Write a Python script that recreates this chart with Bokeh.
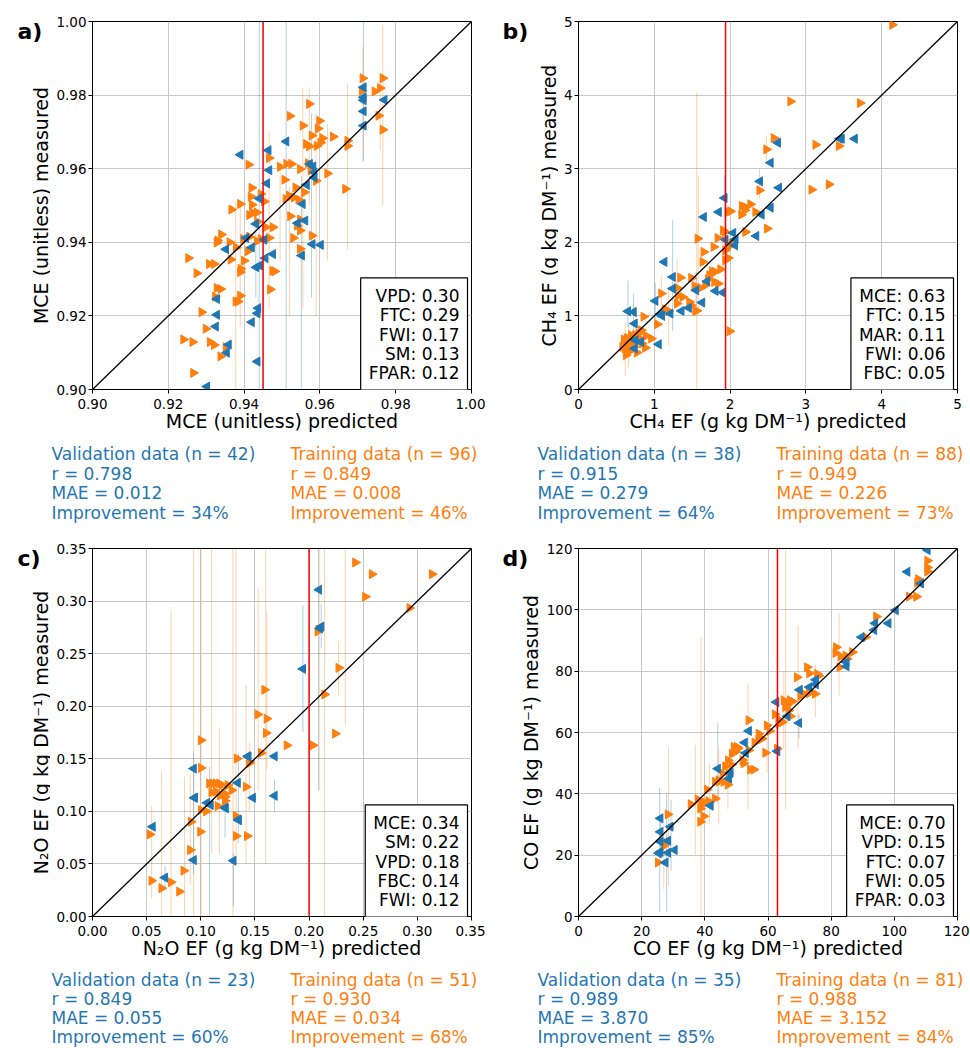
import numpy as np
from bokeh.plotting import figure
from bokeh.models import Range1d, FixedTicker, Label, Span, PrintfTickFormatter
from bokeh.layouts import column, row
from bokeh.embed import file_html
from bokeh.resources import INLINE

BLUE = "#1f77b4"
ORANGE = "#ff7f0e"
FONT = "DejaVu Sans"

# ---------------- Panel a: MCE ----------------
a_val_x = [0.939, 0.9511, 0.9464, 0.9466, 0.946, 0.944, 0.9431, 0.9405, 0.9352, 0.9420, 0.9453, 0.9476, 0.9456, 0.9441,
           0.9432, 0.9437, 0.9435, 0.9420, 0.9328, 0.9328, 0.9325, 0.9359, 0.9354, 0.9435, 0.9302, 0.9541, 0.9554, 0.9561,
           0.9552, 0.958, 0.9602, 0.9565, 0.9573, 0.9582, 0.9585, 0.9585, 0.9715, 0.9715, 0.9715, 0.9715, 0.9715, 0.977]
a_val_y = [0.9638, 0.9674, 0.9650, 0.9596, 0.9560, 0.9519, 0.9450, 0.9412, 0.9381, 0.9386, 0.9407, 0.9368, 0.9357, 0.9337,
           0.9332, 0.9221, 0.9207, 0.9183, 0.9203, 0.9246, 0.9171, 0.9122, 0.9100, 0.9076, 0.9008, 0.9452, 0.9504, 0.9459,
           0.9364, 0.9395, 0.9393, 0.9556, 0.9613, 0.9606, 0.9590, 0.9576, 0.9821, 0.9794, 0.9786, 0.9756, 0.9717, 0.9787]
a_trn_x = [0.9713, 0.9766, 0.9711, 0.9745, 0.9759, 0.9755, 0.9766, 0.9572, 0.9521, 0.9555, 0.9599, 0.9595, 0.9579, 0.9607,
           0.9635, 0.9673, 0.9673, 0.9564, 0.9572, 0.9592, 0.9620, 0.9667, 0.9412, 0.9466, 0.9495, 0.9512, 0.9525, 0.9548,
           0.9569, 0.9590, 0.9420, 0.9418, 0.9444, 0.9421, 0.9390, 0.9453, 0.9510, 0.9519, 0.9532, 0.9536, 0.9544, 0.9559,
           0.9522, 0.9540, 0.9548, 0.9530, 0.9548, 0.9579, 0.9367, 0.9414, 0.9422, 0.9434, 0.9435, 0.9457, 0.9466, 0.9340,
           0.9330, 0.9328, 0.9362, 0.9379, 0.9414, 0.9434, 0.9444, 0.9410, 0.9365, 0.9400, 0.9390, 0.9391, 0.9481, 0.9253,
           0.9275, 0.9308, 0.9321, 0.9328, 0.9338, 0.9324, 0.9390, 0.9378, 0.9384, 0.9469, 0.9288, 0.9299, 0.9240, 0.9264,
           0.9310, 0.9321, 0.9352, 0.9338, 0.9266, 0.9602, 0.9507, 0.9576, 0.9476, 0.9398, 0.9548, 0.9475]
a_trn_y = [0.9846, 0.9846, 0.9812, 0.9810, 0.9819, 0.9744, 0.9706, 0.9776, 0.9743, 0.9717, 0.9730, 0.9709, 0.9690, 0.9683,
           0.9687, 0.9676, 0.9662, 0.9667, 0.9661, 0.9662, 0.9587, 0.9545, 0.9611, 0.9629, 0.9605, 0.9613, 0.9613, 0.9599,
           0.9615, 0.9567, 0.9548, 0.9524, 0.9531, 0.9502, 0.9504, 0.9511, 0.9518, 0.9527, 0.9522, 0.9549, 0.9516, 0.9536,
           0.9471, 0.9445, 0.9462, 0.9412, 0.9382, 0.9418, 0.9489, 0.9474, 0.9481, 0.9481, 0.9456, 0.9441, 0.9412, 0.9421,
           0.9405, 0.9399, 0.9400, 0.9386, 0.9415, 0.9403, 0.9409, 0.9376, 0.9353, 0.9350, 0.9319, 0.9328, 0.9321, 0.9357,
           0.9316, 0.9341, 0.9341, 0.9276, 0.9273, 0.9252, 0.9255, 0.9239, 0.9239, 0.9272, 0.9210, 0.9165, 0.9136, 0.9129,
           0.9129, 0.9121, 0.9115, 0.9090, 0.9045, 0.9671, 0.9570, 0.9595, 0.9441, 0.9409, 0.9432, 0.9322]
a_val_eb_x = [0.9440, 0.9451, 0.9511, 0.9551, 0.9715, 0.9578, 0.9431]
a_val_eb_lo = [0.900, 0.900, 0.900, 0.900, 0.962, 0.925, 0.925]
a_val_eb_hi = [1.000, 1.000, 1.000, 0.958, 1.000, 0.975, 0.948]
a_trn_eb_x = [0.9766, 0.9713, 0.9673, 0.9378, 0.9390, 0.9555, 0.9495, 0.9590, 0.9520, 0.9620, 0.9466, 0.9572, 0.9759, 0.9466]
a_trn_eb_lo = [0.950, 0.962, 0.938, 0.900, 0.917, 0.922, 0.935, 0.920, 0.920, 0.935, 0.922, 0.950, 0.965, 0.950]
a_trn_eb_hi = [0.999, 0.993, 0.983, 0.951, 0.950, 0.982, 0.962, 0.975, 0.955, 0.972, 0.950, 0.982, 0.985, 0.970]
a_mean = 0.945
a_imp = ["VPD: 0.30", "FTC: 0.29", "FWI: 0.17", "SM: 0.13", "FPAR: 0.12"]
a_val_stats = ["Validation data (n = 42)", "r = 0.798", "MAE = 0.012", "Improvement = 34%"]
a_trn_stats = ["Training data (n = 96)", "r = 0.849", "MAE = 0.008", "Improvement = 46%"]

# ---------------- Panel b: CH4 ----------------
b_val_x = [3.643, 3.471, 3.445, 2.630, 2.533, 2.392, 2.643, 2.533, 2.414, 2.344, 1.925, 1.850, 1.652, 2.040, 2.070, 2.062,
           1.938, 1.132, 1.242, 1.242, 1.013, 1.079, 1.101, 1.211, 1.357, 1.454, 1.551, 1.630, 1.696, 1.806, 1.903, 0.652,
           0.727, 0.740, 0.749, 0.824, 1.057, 0.740]
b_val_y = [3.407, 3.407, 3.407, 3.353, 3.081, 2.828, 2.742, 2.471, 2.376, 2.086, 2.602, 2.412, 2.344, 2.127, 2.041, 1.959,
           2.036, 1.733, 1.529, 1.371, 1.204, 1.023, 1.000, 1.032, 1.068, 1.109, 1.348, 1.181, 1.471, 1.339, 1.317, 1.063,
           1.054, 0.896, 0.670, 0.647, 0.615, 0.557]
b_trn_x = [4.141, 2.797, 3.714, 2.577, 2.480, 3.128, 3.436, 3.075, 3.304, 2.388, 2.489, 2.203, 2.335, 2.269, 2.159, 2.194,
           2.150, 2.004, 1.969, 1.907, 1.930, 2.026, 1.974, 1.938, 1.974, 1.938, 1.996, 1.837, 1.784, 1.652, 1.639, 1.573,
           1.872, 1.762, 1.727, 1.709, 1.793, 1.841, 1.674, 1.608, 1.344, 1.489, 1.533, 1.300, 1.313, 1.374, 1.463, 1.485,
           1.300, 1.542, 1.093, 1.145, 1.189, 1.040, 0.960, 0.881, 0.894, 0.828, 0.793, 0.758, 0.705, 0.661, 0.639, 0.617,
           0.626, 0.670, 0.727, 0.771, 0.837, 0.639, 0.696, 0.784, 0.731, 0.683, 0.652, 0.815, 0.608, 0.581, 0.700, 0.620,
           0.750, 0.650, 1.800, 2.200, 0.600, 0.690, 1.560, 0.860]
b_trn_y = [4.955, 3.914, 3.891, 3.416, 3.262, 3.326, 3.308, 2.715, 2.787, 2.706, 2.186, 2.140, 2.412, 2.516, 2.493, 2.434,
           2.376, 2.421, 2.412, 2.163, 2.140, 1.982, 1.937, 1.891, 1.787, 1.756, 0.792, 2.059, 1.937, 1.869, 1.733, 2.050,
           1.633, 1.606, 1.552, 1.498, 1.462, 1.439, 1.416, 1.380, 1.520, 1.516, 1.407, 1.380, 1.271, 1.258, 1.190, 1.145,
           1.167, 1.068, 1.303, 1.090, 1.063, 0.887, 0.692, 0.566, 0.729, 0.805, 0.760, 0.715, 0.647, 0.602, 0.692, 0.557,
           0.466, 0.520, 0.579, 0.502, 0.624, 0.638, 0.738, 0.647, 0.670, 0.566, 0.511, 0.692, 0.611, 0.579, 0.620, 0.650,
           0.740, 0.700, 1.600, 2.480, 0.680, 0.600, 1.070, 0.990]
b_val_eb_x = [1.242, 0.652, 1.925, 0.727, 1.551, 1.013]
b_val_eb_lo = [0.80, 0.85, 2.20, 0.80, 1.10, 0.95]
b_val_eb_hi = [2.30, 1.48, 2.90, 1.30, 1.60, 1.45]
b_trn_eb_x = [1.560, 1.580, 0.617, 2.388, 1.189, 1.907, 0.660, 0.758, 1.300, 2.480, 1.093]
b_trn_eb_lo = [0.00, 1.00, 0.18, 2.60, 0.60, 1.60, 0.30, 0.45, 1.10, 3.10, 1.00]
b_trn_eb_hi = [4.03, 2.90, 0.90, 3.00, 1.40, 2.20, 0.90, 1.00, 1.75, 3.45, 1.55]
b_mean = 1.94
b_imp = ["MCE: 0.63", "FTC: 0.15", "MAR: 0.11", "FWI: 0.06", "FBC: 0.05"]
b_val_stats = ["Validation data (n = 38)", "r = 0.915", "MAE = 0.279", "Improvement = 64%"]
b_trn_stats = ["Training data (n = 88)", "r = 0.949", "MAE = 0.226", "Improvement = 73%"]

# ---------------- Panel c: N2O ----------------
c_val_x = [0.2091, 0.2112, 0.1943, 0.1434, 0.1681, 0.1341, 0.1480, 0.1681, 0.1347, 0.1224, 0.1058, 0.0934, 0.0940, 0.0934,
           0.1301, 0.0555, 0.0669, 0.2100, 0.1090, 0.1350, 0.1440, 0.0945, 0.1230]
c_val_y = [0.3108, 0.2757, 0.2355, 0.1524, 0.1524, 0.1271, 0.1129, 0.1148, 0.0923, 0.1034, 0.1081, 0.1407, 0.1129, 0.0537,
           0.0531, 0.0854, 0.0370, 0.2740, 0.1060, 0.0915, 0.1520, 0.1130, 0.1030]
c_trn_x = [0.2427, 0.2581, 0.3136, 0.2519, 0.2929, 0.2088, 0.2273, 0.2143, 0.2242, 0.2035, 0.1795, 0.1588, 0.1526, 0.1610,
           0.1603, 0.1557, 0.1449, 0.1335, 0.1002, 0.1002, 0.1418, 0.1286, 0.1218, 0.1079, 0.1110, 0.1141, 0.1172, 0.1193,
           0.1141, 0.1224, 0.1224, 0.1156, 0.1326, 0.1002, 0.0996, 0.0910, 0.0903, 0.1326, 0.1428, 0.0530, 0.0546, 0.0638,
           0.0725, 0.0842, 0.0802, 0.1180, 0.1250, 0.1050, 0.2080, 0.1100, 0.1450]
c_trn_y = [0.3367, 0.3256, 0.3256, 0.3041, 0.2934, 0.2725, 0.2365, 0.2112, 0.1739, 0.1628, 0.1628, 0.2156, 0.1922, 0.1881,
           0.1745, 0.1556, 0.1470, 0.1502, 0.1676, 0.1413, 0.1233, 0.1201, 0.1170, 0.1265, 0.1265, 0.1265, 0.1265, 0.1249,
           0.1186, 0.1138, 0.1100, 0.1050, 0.0955, 0.1012, 0.0806, 0.0901, 0.0632, 0.0765, 0.0765, 0.0781, 0.0341, 0.0269,
           0.0326, 0.0436, 0.0237, 0.1150, 0.1250, 0.1000, 0.2710, 0.1180, 0.1460]
c_val_eb_x = [0.2091, 0.1943, 0.1347, 0.1080, 0.0934, 0.1301, 0.1681, 0.2112, 0.0669, 0.1224]
c_val_eb_lo = [0.120, 0.175, 0.070, 0.000, 0.040, 0.010, 0.100, 0.255, 0.025, 0.075]
c_val_eb_hi = [0.350, 0.296, 0.155, 0.142, 0.155, 0.060, 0.130, 0.297, 0.048, 0.125]
c_trn_eb_x = [0.0934, 0.1002, 0.1100, 0.1297, 0.1600, 0.0725, 0.1326, 0.1530, 0.2088, 0.2143, 0.2335, 0.0638, 0.0850,
              0.0546, 0.1418, 0.1172, 0.1610, 0.1449, 0.2273, 0.0903]
c_trn_eb_lo = [0.000, 0.000, 0.060, 0.000, 0.050, 0.000, 0.050, 0.120, 0.120, 0.000, 0.182, 0.000, 0.000, 0.017, 0.050,
               0.060, 0.140, 0.100, 0.210, 0.030]
c_trn_eb_hi = [0.350, 0.350, 0.350, 0.350, 0.350, 0.292, 0.350, 0.312, 0.350, 0.350, 0.350, 0.138, 0.133, 0.105, 0.220,
               0.180, 0.290, 0.165, 0.262, 0.135]
c_mean = 0.200
c_imp = ["MCE: 0.34", "SM: 0.22", "VPD: 0.18", "FBC: 0.14", "FWI: 0.12"]
c_val_stats = ["Validation data (n = 23)", "r = 0.849", "MAE = 0.055", "Improvement = 60%"]
c_trn_stats = ["Training data (n = 51)", "r = 0.930", "MAE = 0.034", "Improvement = 68%"]

# ---------------- Panel d: CO ----------------
d_val_x = [110.5, 104.1, 108.4, 100.4, 98.1, 93.9, 93.6, 89.6, 84.8, 84.8, 75.1, 75.1, 73.1, 70.0, 69.8, 66.1, 62.6, 62.9,
           53.9, 52.6, 52.9, 48.1, 47.6, 44.1, 41.8, 25.9, 25.9, 29.1, 25.9, 28.3, 25.9, 25.4, 28.3, 30.4, 27.5]
d_val_y = [119.5, 112.4, 108.6, 99.9, 95.6, 95.6, 93.4, 91.1, 82.9, 81.6, 77.2, 75.7, 74.8, 73.9, 63.1, 65.3, 69.9, 53.9,
           60.5, 56.7, 53.3, 46.8, 45.0, 48.2, 36.1, 32.0, 27.6, 29.3, 24.4, 24.7, 21.1, 20.6, 20.8, 21.7, 17.6]
d_trn_x = [110.5, 110.5, 110.5, 107.6, 107.3, 104.7, 107.0, 94.3, 90.9, 81.6, 81.4, 83.0, 84.6, 86.7, 82.7, 72.4, 69.2,
           73.1, 75.6, 71.4, 74.9, 70.3, 67.7, 65.0, 65.5, 66.6, 67.1, 62.2, 63.4, 64.5, 63.4, 62.9, 59.7, 57.1, 58.1, 59.2,
           53.9, 55.8, 53.9, 52.3, 54.4, 55.5, 49.2, 50.2, 49.7, 48.6, 47.4, 46.5, 45.7, 44.4, 43.3, 46.0, 47.3, 47.6, 40.7,
           43.3, 37.8, 35.6, 38.9, 40.2, 41.2, 38.6, 39.6, 38.6, 28.3, 27.5, 25.2, 48.5, 50.5, 44.5, 60.5, 66.0, 67.0, 64.0,
           73.0, 76.0, 85.0, 108.0, 52.0, 57.0, 27.0]
d_trn_y = [116.0, 113.8, 112.5, 110.0, 108.9, 104.3, 104.3, 97.8, 91.1, 87.8, 85.9, 84.8, 85.1, 86.2, 81.3, 81.3, 78.0,
           79.3, 79.1, 72.6, 72.6, 71.9, 70.1, 70.5, 68.3, 67.2, 65.3, 65.9, 64.2, 63.4, 62.9, 54.7, 62.3, 59.6, 58.0, 53.4,
           64.0, 56.7, 54.2, 49.9, 47.9, 47.9, 55.3, 55.3, 53.7, 53.1, 50.9, 49.0, 46.6, 44.4, 43.9, 43.9, 43.0, 46.6, 41.4,
           38.5, 38.2, 36.6, 36.9, 37.1, 37.6, 35.2, 32.7, 30.9, 33.3, 24.1, 17.6, 49.5, 54.8, 44.0, 60.5, 69.0, 70.5, 63.8,
           72.8, 78.5, 84.0, 109.5, 51.0, 57.5, 23.0]
d_val_eb_x = [25.7, 27.9, 29.3, 44.1, 69.8, 26.0]
d_val_eb_lo = [1.5, 1.5, 15.0, 37.0, 58.0, 20.0]
d_val_eb_hi = [42.0, 40.0, 38.0, 63.0, 66.0, 32.0]
d_trn_eb_x = [38.8, 65.6, 28.5, 37.0, 53.7, 69.5, 82.5, 41.5, 59.7, 44.4, 47.3, 65.0, 75.0, 27.0]
d_trn_eb_lo = [0.0, 35.0, 10.0, 20.0, 35.0, 55.0, 72.0, 30.0, 47.0, 30.0, 35.0, 55.0, 65.0, 9.0]
d_trn_eb_hi = [91.0, 120.0, 55.0, 56.0, 76.0, 95.0, 99.0, 50.0, 60.0, 55.0, 50.0, 80.0, 82.0, 30.0]
d_mean = 63.0
d_imp = ["MCE: 0.70", "VPD: 0.15", "FTC: 0.07", "FWI: 0.05", "FPAR: 0.03"]
d_val_stats = ["Validation data (n = 35)", "r = 0.989", "MAE = 3.870", "Improvement = 85%"]
d_trn_stats = ["Training data (n = 81)", "r = 0.988", "MAE = 3.152", "Improvement = 84%"]

FRAME = 379
FRAME_H = 368
BOTTOM = 52


def text_fig(w, h, top=0, bottom=0):
    f = figure(frame_width=w, frame_height=h, min_border=0, title=None,
               min_border_top=top, min_border_bottom=bottom,
               x_range=Range1d(0, w), y_range=Range1d(h, 0),
               x_axis_location=None, y_axis_location=None,
               output_backend="svg", toolbar_location=None, tools="")
    f.outline_line_color = None
    f.background_fill_color = "white"
    f.border_fill_color = "white"
    f.xgrid.visible = False
    f.ygrid.visible = False
    return f


def main_fig(lo, hi, ticks, fmt, xlabel, val_x, val_y, trn_x, trn_y, veb, teb, mean, imp, left, right, top):
    p = figure(frame_width=FRAME, frame_height=FRAME_H, title=None,
               min_border_left=left, min_border_right=right, min_border_top=top, min_border_bottom=BOTTOM,
               x_range=Range1d(lo, hi), y_range=Range1d(lo, hi),
               output_backend="svg", toolbar_location=None, tools="")
    p.background_fill_color = "white"
    p.border_fill_color = "white"
    p.outline_line_color = "black"
    p.outline_line_width = 1
    for ax in (p.xaxis, p.yaxis):
        ax.ticker = FixedTicker(ticks=ticks)
        if fmt:
            ax.formatter = PrintfTickFormatter(format=fmt)
        ax.major_tick_out = 4
        ax.major_tick_in = 0
        ax.minor_tick_out = 0
        ax.minor_tick_in = 0
        ax.major_tick_line_color = "black"
        ax.axis_line_color = "black"
        ax.major_label_text_font = FONT
        ax.major_label_text_font_size = "13.5px"
        ax.major_label_text_color = "black"
        ax.axis_label_text_font = FONT
        ax.axis_label_text_font_size = "19px"
        ax.axis_label_text_font_style = "normal"
        ax.axis_label_text_color = "black"
    p.xaxis.major_label_standoff = 5
    p.yaxis.major_label_standoff = 2
    p.xaxis.axis_label = xlabel
    p.xaxis.axis_label_standoff = -2
    p.grid.grid_line_color = "#c8c8c8"
    p.grid.grid_line_width = 1

    p.segment(x0=teb[0], y0=teb[1], x1=teb[0], y1=teb[2], line_color=ORANGE, line_alpha=0.35, line_width=1)
    p.segment(x0=veb[0], y0=veb[1], x1=veb[0], y1=veb[2], line_color=BLUE, line_alpha=0.35, line_width=1)
    p.scatter(trn_x, trn_y, marker="triangle", angle=-np.pi / 2, size=9,
              fill_color=ORANGE, line_color=ORANGE)
    p.scatter(val_x, val_y, marker="triangle", angle=np.pi / 2, size=9,
              fill_color=BLUE, line_color=BLUE)
    p.line([lo, hi], [lo, hi], line_color="black", line_width=1.3)
    p.add_layout(Span(location=mean, dimension="height", line_color="red", line_width=1.5))

    p.add_layout(Label(x=hi, y=lo, x_offset=-4, y_offset=-2, text="\n".join(imp),
                       text_font=FONT, text_font_size="17px", text_color="black",
                       text_align="right", text_baseline="bottom", text_line_height=0.97,
                       background_fill_color="white", border_line_color="black",
                       border_line_width=1.2, padding=8))
    return p


def panel(tag, lo, hi, ticks, fmt, xlabel, ylabel, val_x, val_y, trn_x, trn_y, veb, teb, mean, imp,
          vstats, tstats, strip_w, main_left, main_right, top, ylab_x, stats_h, stats_y, stats_x):
    p = main_fig(lo, hi, ticks, fmt, xlabel, val_x, val_y, trn_x, trn_y, veb, teb, mean, imp,
                 main_left, main_right, top)
    # strip to the left of the axes: panel tag and y-axis title (frame aligned with the plot frame)
    s = text_fig(strip_w, FRAME_H, top=top, bottom=BOTTOM)
    s.add_layout(Label(x=17, y=-2.4, text=tag, text_font=FONT, text_font_size="22px",
                       text_font_style="bold", text_color="black", text_baseline="top"))
    s.add_layout(Label(x=ylab_x, y=FRAME_H / 2, text=ylabel, angle=np.pi / 2, text_font=FONT,
                       text_font_size="19px", text_color="black", text_align="center",
                       text_baseline="middle"))
    total_w = strip_w + main_left + FRAME + main_right
    t = text_fig(total_w, stats_h)
    for i, (vs, ts) in enumerate(zip(vstats, tstats)):
        t.add_layout(Label(x=stats_x[0], y=stats_y[i], text=vs, text_font=FONT, text_font_size="17px",
                           text_color=BLUE, text_baseline="top"))
        t.add_layout(Label(x=stats_x[1], y=stats_y[i], text=ts, text_font=FONT, text_font_size="17px",
                           text_color=ORANGE, text_baseline="top"))
    return column(row(s, p), t)


top_y = [2, 22, 41, 61]
bot_y = [1, 20, 39, 58]

la = panel("a)", 0.90, 1.00, [0.90, 0.92, 0.94, 0.96, 0.98, 1.00], "%.2f",
           "MCE (unitless) predicted", "MCE (unitless) measured",
           a_val_x, a_val_y, a_trn_x, a_trn_y,
           (a_val_eb_x, a_val_eb_lo, a_val_eb_hi), (a_trn_eb_x, a_trn_eb_lo, a_trn_eb_hi),
           a_mean, a_imp, a_val_stats, a_trn_stats,
           strip_w=50, main_left=42, main_right=14, top=21, ylab_x=40,
           stats_h=84, stats_y=top_y, stats_x=(51, 290))
lb = panel("b)", 0, 5, [0, 1, 2, 3, 4, 5], None,
           "CH\u2084 EF (g kg DM\u207b\u00b9) predicted", "CH\u2084 EF (g kg DM\u207b\u00b9) measured",
           b_val_x, b_val_y, b_trn_x, b_trn_y,
           (b_val_eb_x, b_val_eb_lo, b_val_eb_hi), (b_trn_eb_x, b_trn_eb_lo, b_trn_eb_hi),
           b_mean, b_imp, b_val_stats, b_trn_stats,
           strip_w=73, main_left=20, main_right=12, top=21, ylab_x=63,
           stats_h=84, stats_y=top_y, stats_x=(52, 291))
lc = panel("c)", 0.0, 0.35, [0.0, 0.05, 0.10, 0.15, 0.20, 0.25, 0.30, 0.35], "%.2f",
           "N\u2082O EF (g kg DM\u207b\u00b9) predicted", "N\u2082O EF (g kg DM\u207b\u00b9) measured",
           c_val_x, c_val_y, c_trn_x, c_trn_y,
           (c_val_eb_x, c_val_eb_lo, c_val_eb_hi), (c_trn_eb_x, c_trn_eb_lo, c_trn_eb_hi),
           c_mean, c_imp, c_val_stats, c_trn_stats,
           strip_w=50, main_left=42, main_right=14, top=23, ylab_x=40,
           stats_h=79, stats_y=bot_y, stats_x=(51, 290))
ld = panel("d)", 0, 120, [0, 20, 40, 60, 80, 100, 120], None,
           "CO EF (g kg DM\u207b\u00b9) predicted", "CO EF (g kg DM\u207b\u00b9) measured",
           d_val_x, d_val_y, d_trn_x, d_trn_y,
           (d_val_eb_x, d_val_eb_lo, d_val_eb_hi), (d_trn_eb_x, d_trn_eb_lo, d_trn_eb_hi),
           d_mean, d_imp, d_val_stats, d_trn_stats,
           strip_w=58, main_left=35, main_right=12, top=23, ylab_x=45,
           stats_h=79, stats_y=bot_y, stats_x=(52, 291))

layout = column(row(la, lb), row(lc, ld))
open("out.html", "w").write(file_html(layout, INLINE))
